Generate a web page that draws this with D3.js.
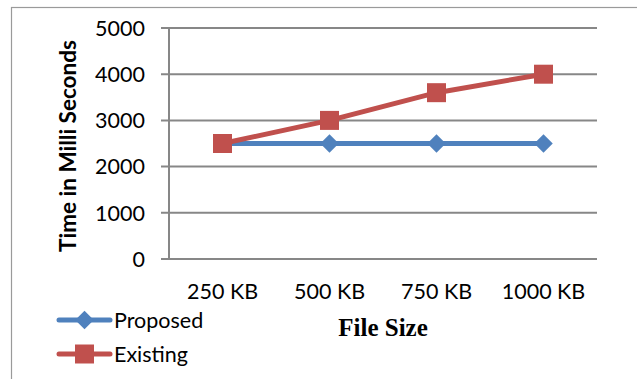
<!DOCTYPE html>
<html>
<head>
<meta charset="utf-8">
<script src="https://cdn.jsdelivr.net/npm/d3@7"></script>
<style>
  html, body { margin: 0; padding: 0; background: #fff; }
  svg { display: block; }
</style>
</head>
<body>
<svg id="chart" width="637" height="379"></svg>
<script>
// File sizes tested and measured times (ms)
const categories = ["250 KB", "500 KB", "750 KB", "1000 KB"];
const proposed = [2500, 2500, 2500, 2500];
const existing = [2500, 3000, 3600, 4000];
const yTicks = [0, 1000, 2000, 3000, 4000, 5000];
const seriesNames = ["Proposed", "Existing"];

const colors = { Proposed: "#4F81BD", Existing: "#C0504D" };
const gridColor = "#878787";
const labelFont = "Lato, 'Open Sans', sans-serif";

const svg = d3.select("#chart");

// outer frame of the chart area (runs off the right and bottom edges)
svg.append("rect")
  .attr("x", 11.5).attr("y", 7.5)
  .attr("width", 640).attr("height", 380)
  .attr("fill", "none").attr("stroke", "#9a9a9a").attr("stroke-width", 1.2);

const plot = { left: 169, right: 597, top: 28, bottom: 259 };

const x = d3.scaleBand().domain(categories).range([plot.left, plot.right]);
const y = d3.scaleLinear().domain([0, 5000]).range([plot.bottom, plot.top]);

// square-shaped diamond marker (a square turned 45 degrees)
const diamond = {
  draw(ctx, size) {
    const r = Math.sqrt(size / 2);
    ctx.moveTo(0, -r);
    ctx.lineTo(r, 0);
    ctx.lineTo(0, r);
    ctx.lineTo(-r, 0);
    ctx.closePath();
  }
};

// horizontal gridlines with short ticks left of the axis
const grid = svg.append("g");
grid.selectAll("line.grid")
  .data(yTicks)
  .join("line")
  .attr("class", "grid")
  .attr("x1", plot.left - 8).attr("x2", plot.right)
  .attr("y1", d => y(d)).attr("y2", d => y(d))
  .attr("stroke", gridColor).attr("stroke-width", 2);

// vertical axis line
svg.append("line")
  .attr("x1", plot.left).attr("x2", plot.left)
  .attr("y1", plot.top).attr("y2", plot.bottom)
  .attr("stroke", gridColor).attr("stroke-width", 2);

// y tick labels
svg.append("g").selectAll("text")
  .data(yTicks)
  .join("text")
  .attr("x", 145).attr("y", d => y(d))
  .attr("dy", "0.36em")
  .attr("text-anchor", "end")
  .attr("font-family", labelFont).attr("font-size", 21.5)
  .attr("fill", "#000")
  .text(d => d);

// x tick labels
svg.append("g").selectAll("text")
  .data(categories)
  .join("text")
  .attr("x", d => x(d) + x.bandwidth() / 2)
  .attr("y", 299)
  .attr("text-anchor", "middle")
  .attr("font-family", labelFont).attr("font-size", 21.5)
  .attr("fill", "#000")
  .text(d => d);

// axis titles
svg.append("text")
  .attr("transform", "translate(76,146) rotate(-90)")
  .attr("text-anchor", "middle")
  .attr("font-family", labelFont).attr("font-size", 22.5).attr("font-weight", "bold")
  .attr("fill", "#000")
  .text("Time in Milli Seconds");

svg.append("text")
  .attr("x", 383).attr("y", 336)
  .attr("text-anchor", "middle")
  .attr("font-family", "'Liberation Serif', 'Times New Roman', serif")
  .attr("font-size", 25).attr("font-weight", "bold")
  .attr("fill", "#000")
  .text("File Size");

// series
const series = [
  { name: "Proposed", values: proposed, symbol: diamond, size: 170 },
  { name: "Existing", values: existing, symbol: d3.symbolSquare, size: 361 }
];

const line = d3.line()
  .x((d, i) => x(categories[i]) + x.bandwidth() / 2)
  .y(d => y(d));

series.forEach(s => {
  svg.append("path")
    .datum(s.values)
    .attr("d", line)
    .attr("fill", "none")
    .attr("stroke", colors[s.name])
    .attr("stroke-width", 5)
    .attr("stroke-linejoin", "round");
});

series.forEach(s => {
  svg.append("g").selectAll("path")
    .data(s.values)
    .join("path")
    .attr("transform", (d, i) => `translate(${x(categories[i]) + x.bandwidth() / 2},${y(d)})`)
    .attr("d", d3.symbol().type(s.symbol).size(s.size))
    .attr("fill", colors[s.name]);
});

// legend
const legend = svg.append("g");
const legendRows = [{ s: series[0], y: 320 }, { s: series[1], y: 354 }];
legendRows.forEach(r => {
  legend.append("line")
    .attr("x1", 59).attr("x2", 110)
    .attr("y1", r.y).attr("y2", r.y)
    .attr("stroke", colors[r.s.name]).attr("stroke-width", 5)
    .attr("stroke-linecap", "round");
  legend.append("path")
    .attr("transform", `translate(84.5,${r.y})`)
    .attr("d", d3.symbol().type(r.s.symbol).size(r.s.size))
    .attr("fill", colors[r.s.name]);
  legend.append("text")
    .attr("x", 114).attr("y", r.y)
    .attr("dy", "0.36em")
    .attr("font-family", labelFont).attr("font-size", 21.5)
    .attr("fill", "#000")
    .text(r.s.name);
});
</script>
</body>
</html>
